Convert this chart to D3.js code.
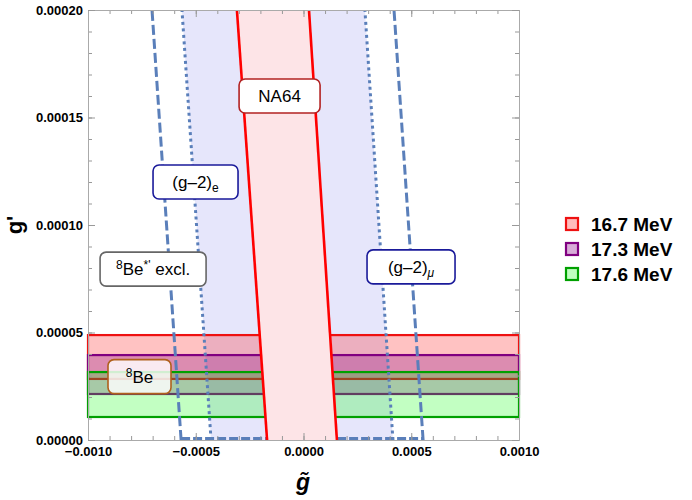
<!DOCTYPE html>
<html>
<head>
<meta charset="utf-8">
<script src="https://cdn.jsdelivr.net/npm/d3@7"></script>
<style>
  body { margin: 0; background: #fff; }
  svg { font-family: "Liberation Sans", Arial, Helvetica, sans-serif; }
</style>
</head>
<body>
<div id="chart"></div>
<script>
// ---- data ----
var bandNames = ["16.7 MeV", "17.3 MeV", "17.6 MeV"];
var bandLow = [0.0000284, 0.0000214, 0.0000107];
var bandHigh = [0.0000488, 0.0000395, 0.0000316];
var bandStroke = ["#ee1111", "#800080", "#00a000"];
var bandFill = ["rgba(255,0,0,0.24)", "rgba(128,0,128,0.28)", "rgba(0,255,0,0.24)"];
var legendFill = ["#ffbcbc", "#d8acd8", "#c0ffc0"];

// g' values at which the boundary lines are given (bottom, top)
var gpEnds = [0, 0.0002];
// (g-2) boundaries: g~ at g'=0 and g'=0.0002
var gm2DashedLeft = [-0.000568, -0.000703];
var gm2DottedLeft = [-0.000429, -0.000564];
var gm2DottedRight = [0.000415, 0.000285];
var gm2DashedRight = [0.000555, 0.00042];
// NA64 boundaries
var na64Left = [-0.000169, -0.000309];
var na64Right = [0.000155, 0.0000255];

var xMajor = [-0.001, -0.0005, 0, 0.0005, 0.001];
var yMajor = [0, 0.00005, 0.0001, 0.00015, 0.0002];

// annotations: label, position in data coords, box width
var notes = [
  {key: "na64", x: -0.000111, y: 0.00016, w: 81, stroke: "#b22222"},
  {key: "gm2e", x: -0.000501, y: 0.00012, w: 85, stroke: "#1a1a9a"},
  {key: "beExcl", x: -0.000698, y: 0.0000795, w: 106, stroke: "#666666"},
  {key: "gm2mu", x: 0.000499, y: 0.0000805, w: 88, stroke: "#1a1a9a"},
  {key: "be", x: -0.000761, y: 0.0000295, w: 63, stroke: "#b0601c"}
];

var width = 692, height = 500;
var x = d3.scaleLinear().domain([-0.001, 0.001]).range([88, 519]);
var y = d3.scaleLinear().domain([0, 0.0002]).range([440, 10]);

var svg = d3.select("#chart").append("svg")
  .attr("width", width)
  .attr("height", height);

var blue = "#5a7fba";

function pts(xs) {
  return gpEnds.map(function(gp, i) { return [x(xs[i]), y(gp)]; });
}
var line = d3.line();

// lavender (g-2) region between dotted lines
var lav = pts(gm2DottedLeft).concat(pts(gm2DottedRight).reverse());
svg.append("path")
  .attr("d", line(lav) + "Z")
  .style("fill", "#e6e6fb");

// 8Be bands
svg.append("g").selectAll("rect")
  .data(bandNames)
  .enter().append("rect")
  .attr("x", x(-0.001))
  .attr("width", x(0.001) - x(-0.001))
  .attr("y", function(d, i) { return y(bandHigh[i]); })
  .attr("height", function(d, i) { return y(bandLow[i]) - y(bandHigh[i]); })
  .style("fill", function(d, i) { return bandFill[i]; })
  .style("stroke", function(d, i) { return bandStroke[i]; })
  .style("stroke-width", 2.2);

// bottom dashed edge of the (g-2) contour
svg.append("line")
  .attr("x1", x(gm2DashedLeft[0])).attr("x2", x(gm2DashedRight[0]))
  .attr("y1", y(0) - 1.5).attr("y2", y(0) - 1.5)
  .style("stroke", blue).style("stroke-width", 3)
  .style("stroke-dasharray", "9,3");

// dashed / dotted (g-2) lines
var gm2Lines = [
  {xs: gm2DashedLeft, dash: "10,4"},
  {xs: gm2DottedLeft, dash: "3,3.5"},
  {xs: gm2DottedRight, dash: "3,3.5"},
  {xs: gm2DashedRight, dash: "10,4"}
];
svg.append("g").selectAll("path")
  .data(gm2Lines)
  .enter().append("path")
  .attr("d", function(d) { return line(pts(d.xs)); })
  .style("fill", "none")
  .style("stroke", blue)
  .style("stroke-width", 3)
  .style("stroke-dasharray", function(d) { return d.dash; });

// NA64 allowed strip
var na = pts(na64Left).concat(pts(na64Right).reverse());
svg.append("path")
  .attr("d", line(na) + "Z")
  .style("fill", "#fde4e7");
[na64Left, na64Right].forEach(function(xs) {
  svg.append("path")
    .attr("d", line(pts(xs)))
    .style("fill", "none")
    .style("stroke", "#ff0000")
    .style("stroke-width", 2.6);
});

// frame and ticks
var frame = svg.append("g").attr("class", "frame");
var xMinor = d3.range(-10, 11).map(function(k) { return k * 0.0001; });
var yMinor = d3.range(0, 21).map(function(k) { return k * 0.00001; });

function styleAxis(g) {
  g.select(".domain").style("stroke", "#aaaaaa");
  g.selectAll(".tick line").style("stroke", "#999999");
  g.selectAll("text")
    .style("font-size", "13px")
    .style("font-weight", "bold")
    .style("fill", "#000");
}

frame.append("g").attr("transform", "translate(0,440)")
  .call(d3.axisBottom(x).tickValues(xMinor).tickSize(-4).tickFormat("").tickSizeOuter(0)).call(styleAxis);
frame.append("g").attr("transform", "translate(0,440)")
  .call(d3.axisBottom(x).tickValues(xMajor).tickSize(-7).tickPadding(7).tickSizeOuter(0)
    .tickFormat(d3.format(".4f"))).call(styleAxis);
frame.append("g").attr("transform", "translate(0,10)")
  .call(d3.axisTop(x).tickValues(xMinor).tickSize(-4).tickFormat("").tickSizeOuter(0)).call(styleAxis);
frame.append("g").attr("transform", "translate(0,10)")
  .call(d3.axisTop(x).tickValues(xMajor).tickSize(-7).tickFormat("").tickSizeOuter(0)).call(styleAxis);

frame.append("g").attr("transform", "translate(88,0)")
  .call(d3.axisLeft(y).tickValues(yMinor).tickSize(-4).tickFormat("").tickSizeOuter(0)).call(styleAxis);
frame.append("g").attr("transform", "translate(88,0)")
  .call(d3.axisLeft(y).tickValues(yMajor).tickSize(-7).tickPadding(5).tickSizeOuter(0)
    .tickFormat(d3.format(".5f"))).call(styleAxis);
frame.append("g").attr("transform", "translate(519,0)")
  .call(d3.axisRight(y).tickValues(yMinor).tickSize(-4).tickFormat("").tickSizeOuter(0)).call(styleAxis);
frame.append("g").attr("transform", "translate(519,0)")
  .call(d3.axisRight(y).tickValues(yMajor).tickSize(-7).tickFormat("").tickSizeOuter(0)).call(styleAxis);

// axis titles
svg.append("text")
  .attr("x", 303).attr("y", 490)
  .attr("text-anchor", "middle")
  .style("font-size", "23px").style("font-weight", "bold").style("font-style", "italic")
  .text("g\u0303");
svg.append("text")
  .attr("transform", "translate(22,225) rotate(-90)")
  .attr("text-anchor", "middle")
  .style("font-size", "22px").style("font-weight", "bold")
  .text("g'");

// annotation boxes
var ann = svg.append("g").selectAll("g")
  .data(notes)
  .enter().append("g")
  .attr("transform", function(d) { return "translate(" + x(d.x) + "," + y(d.y) + ")"; });
ann.append("rect")
  .attr("x", function(d) { return -d.w / 2; })
  .attr("y", -17)
  .attr("width", function(d) { return d.w; })
  .attr("height", 34)
  .attr("rx", 6)
  .style("fill", function(d) { return d.key === "be" ? "rgba(255,255,255,0.82)" : "#fff"; })
  .style("stroke", function(d) { return d.stroke; })
  .style("stroke-width", 1.6);
ann.each(function(d) {
  var t = d3.select(this).append("text")
    .attr("text-anchor", "middle")
    .attr("y", 6)
    .style("font-size", "17px");
  if (d.key === "na64") {
    t.text("NA64");
  } else if (d.key === "gm2e") {
    t.append("tspan").text("(g\u20132)");
    t.append("tspan").attr("dy", 4).style("font-size", "12px").text("e");
  } else if (d.key === "gm2mu") {
    t.append("tspan").text("(g\u20132)");
    t.append("tspan").attr("dy", 4).style("font-size", "12px").style("font-style", "italic").text("\u03bc");
  } else if (d.key === "beExcl") {
    t.append("tspan").attr("dy", -6).style("font-size", "12px").text("8");
    t.append("tspan").attr("dy", 6).text("Be");
    t.append("tspan").attr("dy", -6).style("font-size", "12px").text("*'");
    t.append("tspan").attr("dy", 6).text(" excl.");
  } else if (d.key === "be") {
    t.append("tspan").attr("dy", -6).style("font-size", "12px").text("8");
    t.append("tspan").attr("dy", 6).text("Be");
  }
});

// legend
var leg = svg.append("g").selectAll("g")
  .data(bandNames)
  .enter().append("g")
  .attr("transform", function(d, i) { return "translate(565," + (224 + i * 25) + ")"; });
leg.append("rect")
  .attr("x", 1).attr("y", -6)
  .attr("width", 12).attr("height", 12)
  .style("fill", function(d, i) { return legendFill[i]; })
  .style("stroke", function(d, i) { return bandStroke[i]; })
  .style("stroke-width", 2.2);
leg.append("text")
  .attr("x", 26).attr("y", 7)
  .style("font-size", "19px").style("font-weight", "bold")
  .text(function(d) { return d; });
</script>
</body>
</html>
